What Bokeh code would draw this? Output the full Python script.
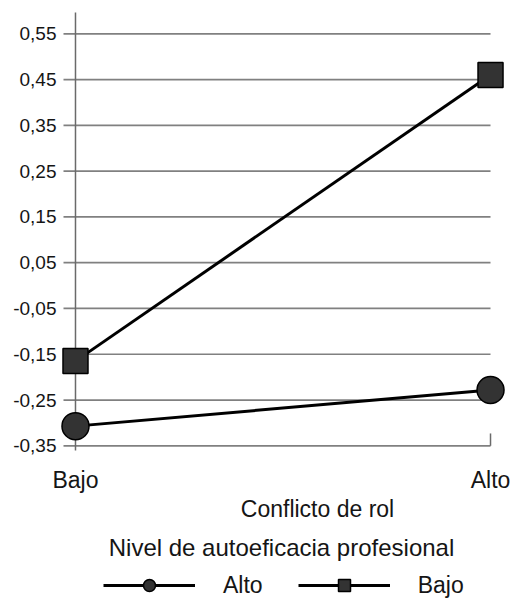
from bokeh.plotting import figure
from bokeh.models import Range1d, Label, Legend, LegendItem
from bokeh.core.properties import value
from bokeh.embed import file_html
from bokeh.resources import INLINE

# ---- data ----
conflict_levels = ["Bajo", "Alto"]
x_pos = [0, 1]
alto_values = [-0.307, -0.228]   # Nivel de autoeficacia: Alto (circles)
bajo_values = [-0.165, 0.46]     # Nivel de autoeficacia: Bajo (squares)
series_names = ["Alto", "Bajo"]
y_ticks = [-0.35, -0.25, -0.15, -0.05, 0.05, 0.15, 0.25, 0.35, 0.45, 0.55]
y_tick_labels = ["-0,35", "-0,25", "-0,15", "-0,05", "0,05", "0,15", "0,25", "0,35", "0,45", "0,55"]
x_title = "Conflicto de rol"
legend_title = "Nivel de autoeficacia profesional"

FONT = "Liberation Sans"
TXT = "#151515"
GRID = "#808080"
AXIS = "#6a6a6a"

p = figure(width=515, height=605, output_backend="svg", toolbar_location=None,
           x_range=Range1d(-0.1807, 1.0602), y_range=Range1d(-0.6988, 0.6227),
           min_border_left=0, min_border_right=0, min_border_top=0, min_border_bottom=0)
p.outline_line_color = None
p.xgrid.visible = False
p.ygrid.visible = False
p.xaxis.visible = False
p.yaxis.visible = False
p.background_fill_color = "white"

n = len(y_ticks)
# gridlines (with tick stubs left of the axis line)
p.segment(x0=[-12 / 415] * n, y0=y_ticks, x1=[x_pos[-1]] * n, y1=y_ticks,
          line_color=GRID, line_width=1.7)
# value axis line at "Bajo"
p.segment(x0=[x_pos[0]], y0=[y_ticks[0] - 0.01], x1=[x_pos[0]], y1=[y_ticks[-1] + 0.0465],
          line_color=AXIS, line_width=1.5)
# small category tick at "Alto"
p.segment(x0=[x_pos[-1]], y0=[y_ticks[0]], x1=[x_pos[-1]], y1=[y_ticks[0] + 0.027],
          line_color=AXIS, line_width=1.5)

# value tick labels
p.text(x=[x_pos[0]] * n, y=y_ticks, text=y_tick_labels, x_offset=-19,
       text_align="right", text_baseline="middle",
       text_font=value(FONT), text_font_size="19px", text_color=TXT)

# category labels under the plot
p.text(x=x_pos, y=[y_ticks[0]] * len(x_pos), text=conflict_levels, y_offset=34,
       text_align="center", text_baseline="alphabetic",
       text_font=value(FONT), text_font_size="23px", text_color=TXT)

# series
la = p.line(x_pos, alto_values, line_color="black", line_width=3)
sa = p.scatter(x_pos, alto_values, marker="circle", size=27, fill_color="#333333",
               line_color="black", line_width=1.5)
lb = p.line(x_pos, bajo_values, line_color="black", line_width=3)
sb = p.scatter(x_pos, bajo_values, marker="square", size=25, fill_color="#333333",
               line_color="black", line_width=1.5)

legend = Legend(items=[LegendItem(label=series_names[0], renderers=[la, sa]),
                       LegendItem(label=series_names[1], renderers=[lb, sb])],
                orientation="horizontal", location=(103, 5),
                glyph_width=92, glyph_height=30, label_height=30,
                label_standoff=28, spacing=35, padding=0, margin=0,
                border_line_color=None, background_fill_alpha=0,
                label_text_font=FONT, label_text_font_size="23px", label_text_color=TXT)
p.add_layout(legend, "center")

p.add_layout(Label(x=317, y=97, x_units="screen", y_units="screen", text=x_title,
                   text_align="center", text_baseline="alphabetic",
                   text_font=FONT, text_font_size="23px", text_color=TXT))
p.add_layout(Label(x=281, y=58, x_units="screen", y_units="screen", text=legend_title,
                   text_align="center", text_baseline="alphabetic",
                   text_font=FONT, text_font_size="24px", text_color=TXT))

open("out.html", "w").write(file_html(p, INLINE))
